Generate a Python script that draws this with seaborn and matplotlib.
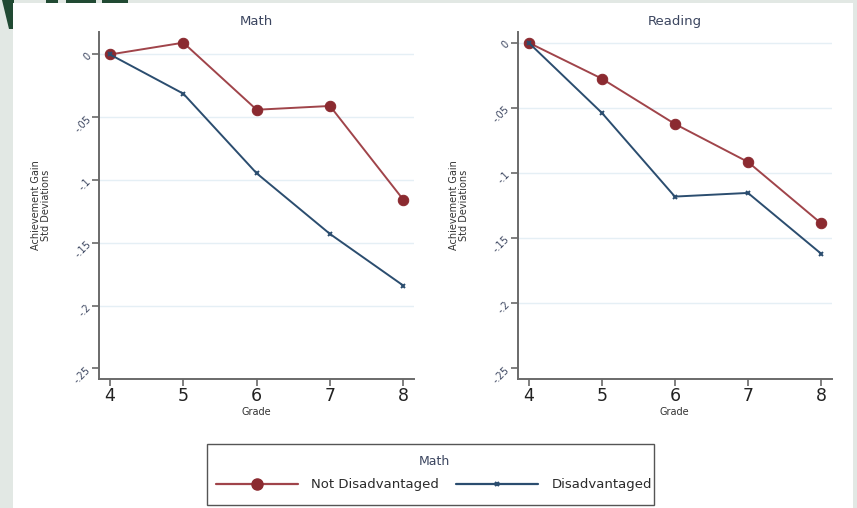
import numpy as np
import pandas as pd
import matplotlib
matplotlib.use("Agg")
import matplotlib.pyplot as plt
from matplotlib.patches import Rectangle, Polygon
from matplotlib.lines import Line2D
import seaborn as sns

# ---- data -------------------------------------------------------------
grades = [4, 5, 6, 7, 8]
math_not_disadv = [0.0, 0.0094, -0.0440, -0.0410, -0.1156]
math_disadv = [0.0, -0.0312, -0.0946, -0.1429, -0.1840]
read_not_disadv = [0.0, -0.0276, -0.0624, -0.0916, -0.1387]
read_disadv = [0.0, -0.0538, -0.1182, -0.1154, -0.1620]

panel_titles = ["Math", "Reading"]
series_names = ["Not Disadvantaged", "Disadvantaged"]
y_ticks = [0, -0.05, -0.1, -0.15, -0.2, -0.25]
y_tick_labels = ["0", "-.05", "-.1", "-.15", "-.2", "-.25"]
legend_title = "Math"

# ---- style ------------------------------------------------------------
sns.set_theme(style="white")
plt.rcParams["font.family"] = ["DejaVu Sans"]

RED_LINE = "#a0444a"
RED_MARK = "#8b2a30"
BLUE = "#2b4d6f"
TEXT = "#3c4660"
SPINE = "#6a6a6a"
GRID = "#e5eff5"

W, H = 857.0, 508.0


def px(x, y):
    """Pixel position (from the top-left corner) to figure fraction."""
    return (x / W, 1 - y / H)


fig = plt.figure(figsize=(8.57, 5.08), dpi=100)
fig.patch.set_facecolor("#e2e8e4")

# slide background around the white chart panel
DARK_GREEN = "#214a33"
fig.add_artist(Polygon([px(2, 0), px(14, 0), px(14, 29), px(9, 29)],
                       closed=True, transform=fig.transFigure,
                       facecolor=DARK_GREEN, edgecolor="none", zorder=0))
for x0, x1 in [(46, 58), (66, 96), (102, 128)]:
    fig.add_artist(Rectangle(px(x0, 3), (x1 - x0) / W, 3 / H,
                             transform=fig.transFigure, facecolor=DARK_GREEN,
                             edgecolor="none", zorder=0))
fig.add_artist(Rectangle(px(13, 508), (853 - 13) / W, (508 - 3) / H,
                         transform=fig.transFigure, facecolor="white",
                         edgecolor="none", zorder=1))

boxes = [(99, 414, 32, 379), (517.7, 831.7, 32, 379)]
ylims = [(-0.2584, 0.0179), (-0.2583, 0.0082)]
panels = [(math_not_disadv, math_disadv), (read_not_disadv, read_disadv)]
ylabel_x = [41, 459]

for i, ((l, r, t, b), ylim, (nd, d)) in enumerate(zip(boxes, ylims, panels)):
    ax = fig.add_axes([l / W, 1 - b / H, (r - l) / W, (b - t) / H], zorder=2)
    ax.set_facecolor("none")
    df_nd = pd.DataFrame({"Grade": grades, "gain": nd})
    df_d = pd.DataFrame({"Grade": grades, "gain": d})
    sns.lineplot(data=df_nd, x="Grade", y="gain", ax=ax, color=RED_LINE,
                 linewidth=1.4, marker="o", markersize=7.5,
                 markerfacecolor=RED_MARK, markeredgecolor=RED_MARK, zorder=3)
    sns.lineplot(data=df_d, x="Grade", y="gain", ax=ax, color=BLUE,
                 linewidth=1.4, marker="x", markersize=3.5,
                 markeredgewidth=1.4, markeredgecolor=BLUE, zorder=4)

    ax.set_xlim(3.85, 8.146)
    ax.set_ylim(*ylim)
    ax.set_xticks(grades)
    ax.set_xticklabels([str(g) for g in grades], fontsize=12.5, color="#222222")
    ax.set_yticks(y_ticks)
    ax.set_yticklabels(y_tick_labels, fontsize=7, color=TEXT, rotation=45,
                       rotation_mode="anchor", ha="right", va="center")
    for yv in y_ticks[:-1]:
        ax.axhline(yv, color=GRID, linewidth=1.0, zorder=1)
    for s in ["top", "right"]:
        ax.spines[s].set_visible(False)
    for s in ["left", "bottom"]:
        ax.spines[s].set_color(SPINE)
        ax.spines[s].set_linewidth(1.4)
    ax.tick_params(axis="both", which="major", length=5, width=1.2,
                   color=SPINE, direction="out", left=True, bottom=True)
    ax.tick_params(axis="x", pad=1)
    ax.tick_params(axis="y", pad=2)
    ax.set_xlabel("Grade", fontsize=7, color="#333333", labelpad=1)
    ax.set_ylabel("")
    ax.set_title(panel_titles[i], fontsize=9.5, color=TEXT, pad=5)
    fig.text(ylabel_x[i] / W, 1 - 205 / H, "Achievement Gain\nStd Deviations",
             rotation=90, ha="center", va="center", fontsize=7,
             color="#333333", linespacing=0.95, zorder=3)

# legend: entries without frame, plus a square box drawn around them
handles = [
    Line2D([], [], color=RED_LINE, linewidth=1.6, marker="o", markersize=8,
           markerfacecolor=RED_MARK, markeredgecolor=RED_MARK),
    Line2D([], [], color=BLUE, linewidth=1.6, marker="x", markersize=3.5,
           markeredgewidth=1.5),
]
leg = fig.legend(handles, series_names, title=legend_title, ncol=2,
                 loc="center", bbox_to_anchor=(434 / W, 1 - 473 / H),
                 fontsize=9.5, title_fontsize=9, frameon=False,
                 handlelength=6.2, handletextpad=1.0, columnspacing=1.3,
                 borderpad=0.0, labelspacing=0.8)
leg.get_title().set_color(TEXT)
leg.set_zorder(5)
for txt in leg.get_texts():
    txt.set_color("#2a2a2a")
fig.add_artist(Rectangle(px(207, 505), (654 - 207) / W, (505 - 444) / H,
                         transform=fig.transFigure, facecolor="white",
                         edgecolor="#555555", linewidth=1.0, zorder=4))

fig.savefig("out.png", dpi=100, facecolor=fig.get_facecolor())
